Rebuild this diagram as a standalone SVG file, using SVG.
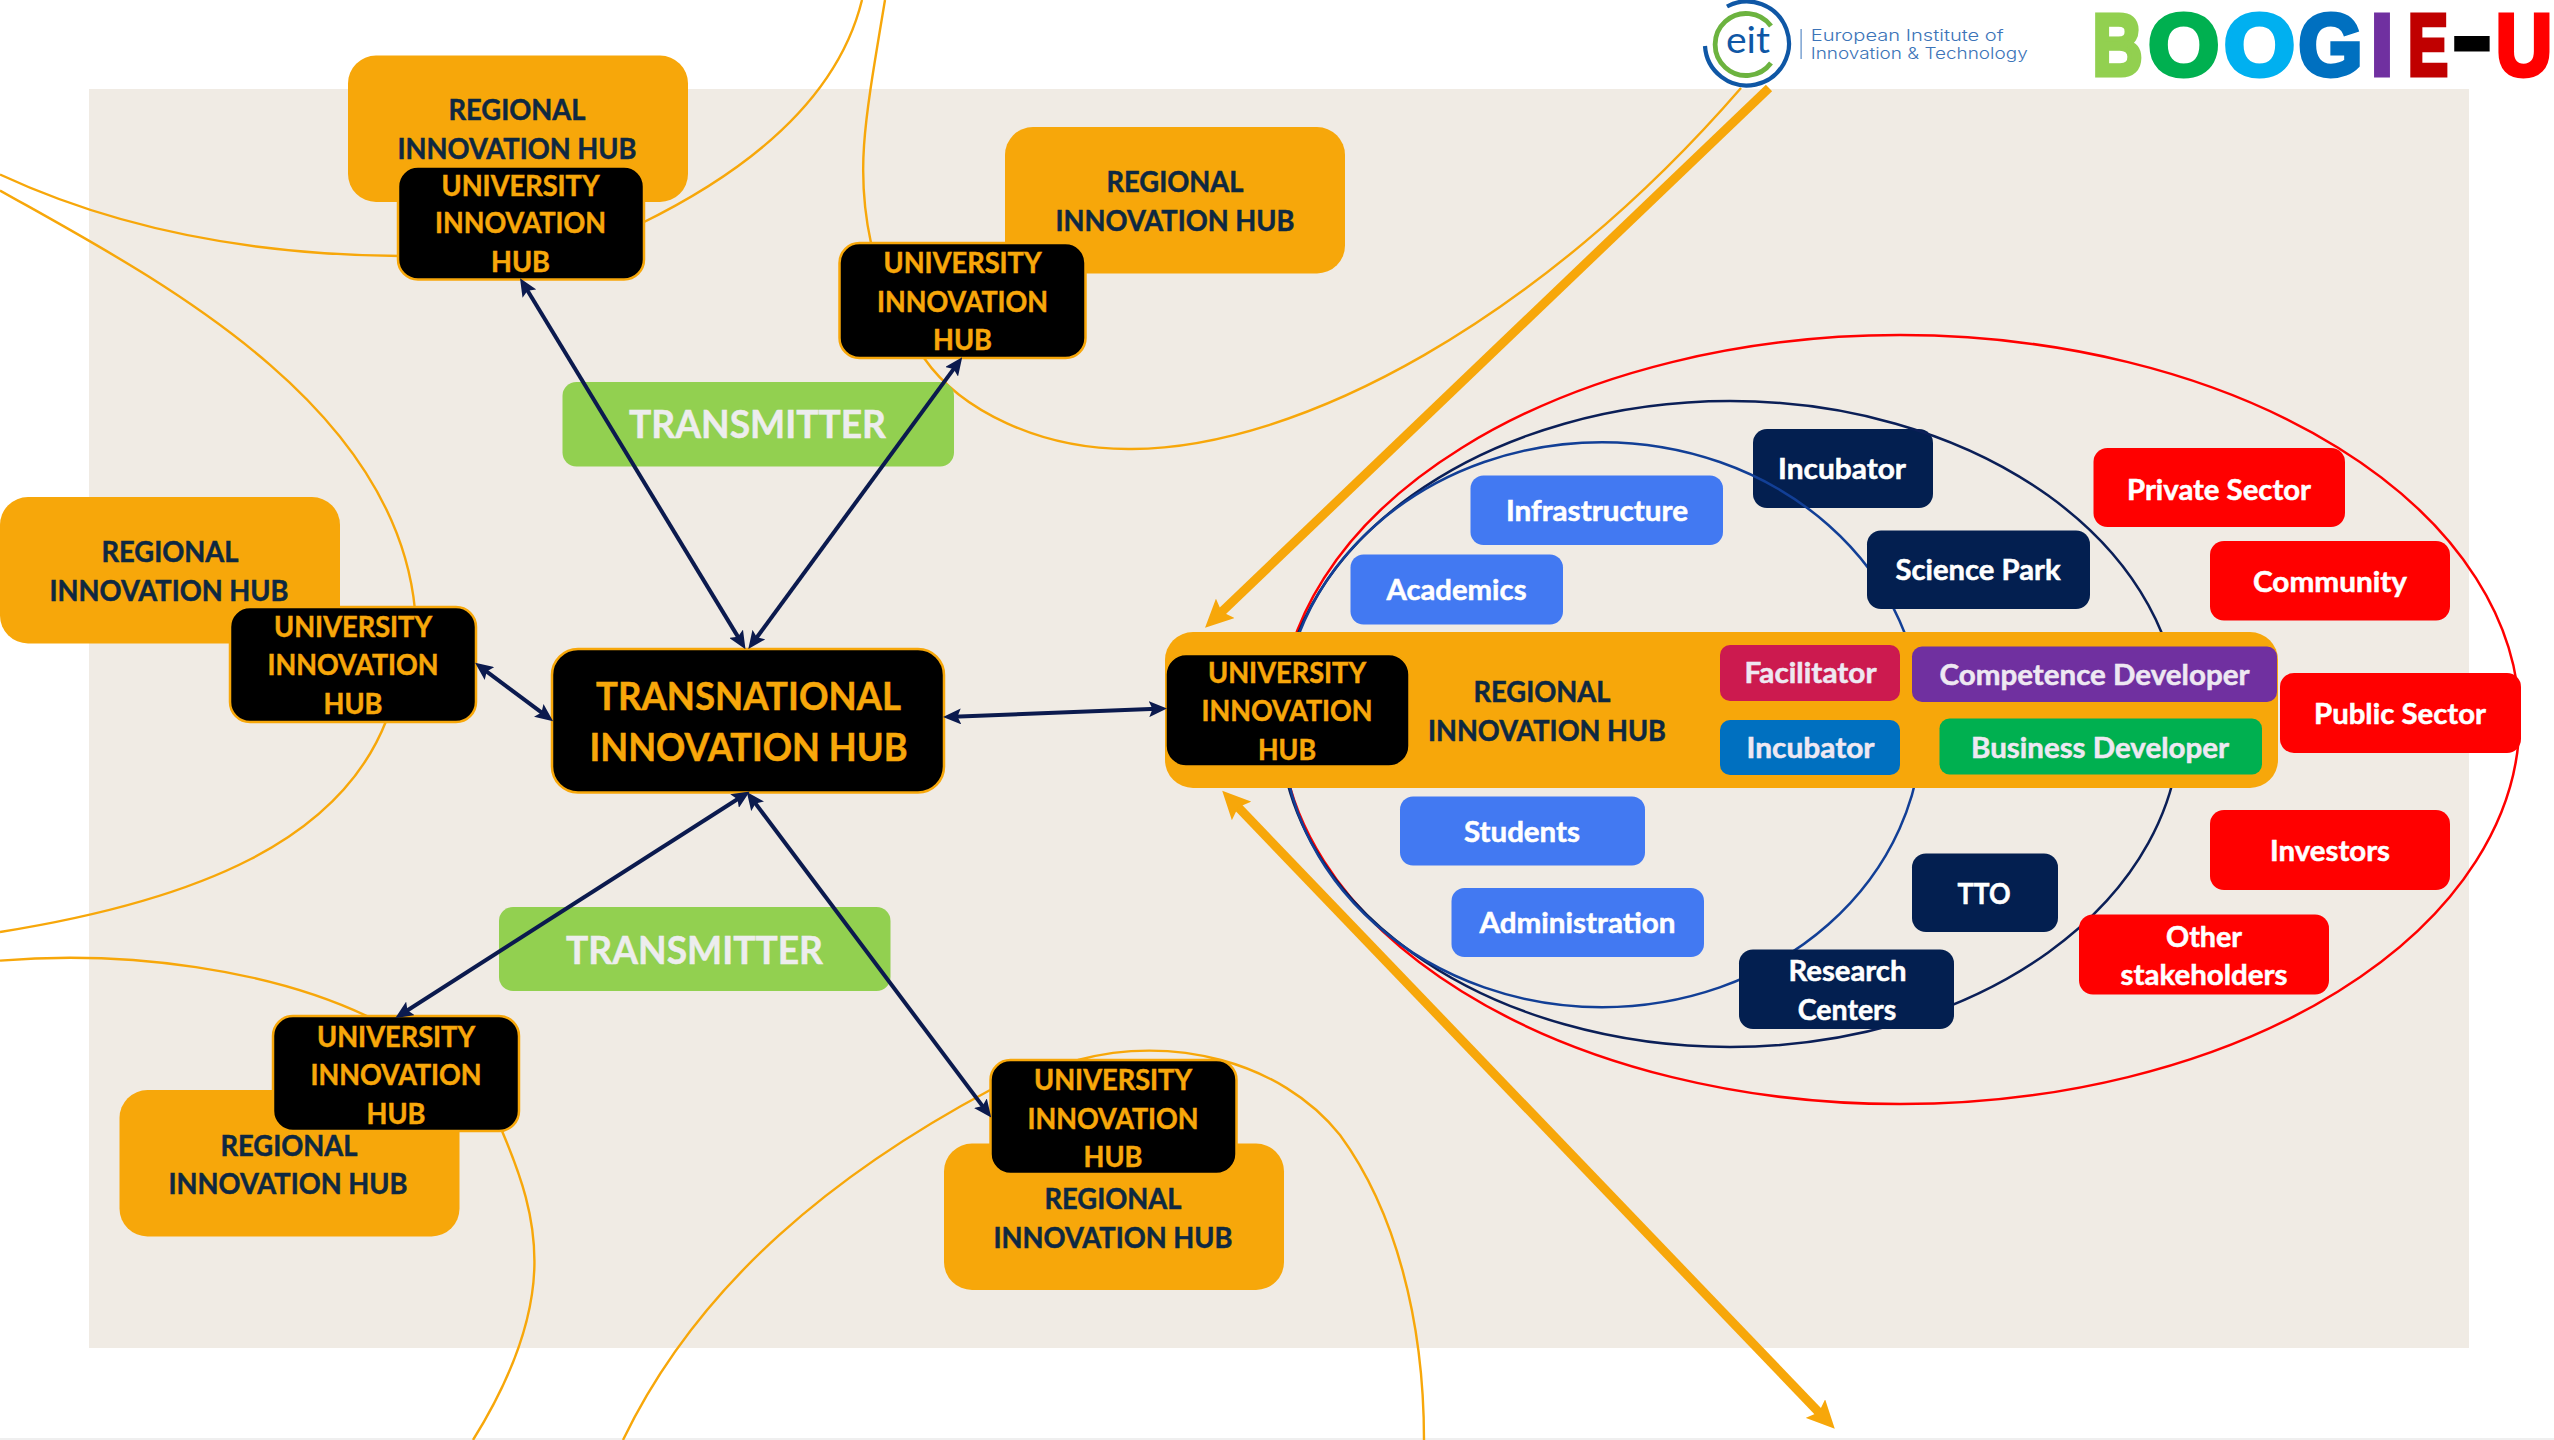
<svg xmlns="http://www.w3.org/2000/svg" width="2554" height="1440" viewBox="0 0 2554 1440">
<style>
text{font-family:"Lato","Open Sans","Liberation Sans",sans-serif;font-weight:700;font-size:28px;text-anchor:middle}
.rih rect{fill:#F7A70A}
.rih text{fill:#0E2841;stroke:#0E2841;stroke-width:.5}
.uih rect{fill:#000;stroke:#F7A70A;stroke-width:2.5}
.uih text{fill:#F7A70A;stroke:#F7A70A;stroke-width:.5}
.tx rect{fill:#92D050}
.tx text{fill:#EDEDED;font-size:38px;stroke:#EDEDED;stroke-width:.5}
.blue rect{fill:#4279F2}
.navy rect{fill:#031F50}
.red rect{fill:#FF0000}
.blue text,.navy text,.red text{fill:#fff;stroke:#fff;stroke-width:.5}
.role text{fill:#EEE8F2;stroke:#EEE8F2;stroke-width:.5}
.curve{fill:none;stroke:#F7A70A;stroke-width:2.4}
.ring{fill:none;stroke-width:2.5}
.nav{stroke:#0B1A4E;stroke-width:4;fill:none;marker-start:url(#nh);marker-end:url(#nh)}
.thick{stroke:#F7A70A;stroke-width:9;fill:none}
.logo{font-family:"Liberation Sans",Arial,sans-serif;font-size:88px;stroke-width:5}
.eit{font-family:"Inter","Lato",sans-serif;font-weight:300;font-size:16px;fill:#3C74B8;text-anchor:start}
</style>
<defs>
<marker id="nh" markerUnits="userSpaceOnUse" viewBox="0 0 18 16" markerWidth="18" markerHeight="16" refX="8" refY="8" orient="auto-start-reverse"><path d="M0,0 L18,8 L0,16 L3.5,8 z" fill="#0B1A4E"/></marker>
<marker id="oh" markerUnits="userSpaceOnUse" viewBox="0 0 28 27" markerWidth="28" markerHeight="27" refX="12" refY="13.5" orient="auto-start-reverse"><path d="M0,0 L28,13.5 L0,27 L5,13.5 z" fill="#F7A70A"/></marker>
</defs>
<rect x="0" y="0" width="2554" height="1440" fill="#fff"/>
<rect id="background" x="89" y="89" width="2380" height="1259" fill="#F0EBE4"/>
<rect x="0" y="1438" width="2554" height="2" fill="#EFEFEF"/>

<g id="n-incubator-navy" class="navy"><rect x="1753" y="429" width="180" height="79" rx="14"/><text x="1842" y="478.5" textLength="128" lengthAdjust="spacingAndGlyphs">Incubator</text></g>

<g id="arcs">
<path class="curve" d="M0,174.5 C130,235 270,255 400,256"/>
<path class="curve" d="M640,224 C730,180 835,110 862,0"/>
<path class="curve" d="M0,190.5 C150,275 395,400 415,610"/>
<path class="curve" d="M386.5,720 C340,840 200,900 0,932"/>
<path class="curve" d="M885,0 C865,120 855,170 871,243"/>
<path class="curve" d="M924,358 C960,410 1040,450 1132,449 C1300,448 1540,320 1741,88"/>
<path class="curve" d="M0,960.6 C130,950 270,970 367,1016"/>
<path class="curve" d="M502,1131 C540,1220 560,1300 473,1440"/>
<path class="curve" d="M623,1440 C700,1280 840,1170 992,1089"/>
<path class="curve" d="M1078,1060 C1170,1035 1280,1060 1340,1135 C1395,1210 1424,1320 1424,1440"/>
<ellipse class="ring" cx="1900" cy="719.6" rx="619.5" ry="384.5" stroke="#FF0000"/>
<ellipse class="ring" cx="1730" cy="724" rx="450" ry="323" stroke="#0B1F57"/>
<ellipse class="ring" cx="1602" cy="724.7" rx="320" ry="282.5" stroke="#123F96"/>
</g>

<g id="n-rih-top-left" class="rih"><rect x="348" y="55.5" width="340" height="146.5" rx="28"/><text x="517" y="120" textLength="137" lengthAdjust="spacingAndGlyphs">REGIONAL</text><text x="517" y="159" textLength="239" lengthAdjust="spacingAndGlyphs">INNOVATION HUB</text></g>
<g id="n-uih-top-left" class="uih"><rect x="398" y="166.5" width="246" height="113" rx="20"/><text x="520.5" y="195.5" textLength="158" lengthAdjust="spacingAndGlyphs">UNIVERSITY</text><text x="520.5" y="233" textLength="171" lengthAdjust="spacingAndGlyphs">INNOVATION</text><text x="520.5" y="272" textLength="59" lengthAdjust="spacingAndGlyphs">HUB</text></g>

<g id="n-rih-top-center" class="rih"><rect x="1005" y="127" width="340" height="146.5" rx="28"/><text x="1175" y="191.5" textLength="137" lengthAdjust="spacingAndGlyphs">REGIONAL</text><text x="1175" y="230.5" textLength="239" lengthAdjust="spacingAndGlyphs">INNOVATION HUB</text></g>
<g id="n-uih-top-center" class="uih"><rect x="839.5" y="243" width="246" height="115" rx="20"/><text x="962.5" y="273" textLength="158" lengthAdjust="spacingAndGlyphs">UNIVERSITY</text><text x="962.5" y="311.5" textLength="171" lengthAdjust="spacingAndGlyphs">INNOVATION</text><text x="962.5" y="350" textLength="59" lengthAdjust="spacingAndGlyphs">HUB</text></g>

<g id="n-rih-left" class="rih"><rect x="0" y="497" width="340" height="146.5" rx="28"/><text x="170" y="562" textLength="137" lengthAdjust="spacingAndGlyphs">REGIONAL</text><text x="169" y="601" textLength="239" lengthAdjust="spacingAndGlyphs">INNOVATION HUB</text></g>
<g id="n-uih-left" class="uih"><rect x="230" y="607" width="246" height="115" rx="20"/><text x="353" y="637" textLength="158" lengthAdjust="spacingAndGlyphs">UNIVERSITY</text><text x="353" y="675" textLength="171" lengthAdjust="spacingAndGlyphs">INNOVATION</text><text x="353" y="714" textLength="59" lengthAdjust="spacingAndGlyphs">HUB</text></g>

<g id="n-rih-bottom-left" class="rih"><rect x="119.5" y="1090" width="340" height="146.5" rx="28"/><text x="289" y="1156" textLength="137" lengthAdjust="spacingAndGlyphs">REGIONAL</text><text x="288" y="1194" textLength="239" lengthAdjust="spacingAndGlyphs">INNOVATION HUB</text></g>
<g id="n-uih-bottom-left" class="uih"><rect x="273" y="1016" width="246" height="115" rx="20"/><text x="396" y="1047" textLength="158" lengthAdjust="spacingAndGlyphs">UNIVERSITY</text><text x="396" y="1085" textLength="171" lengthAdjust="spacingAndGlyphs">INNOVATION</text><text x="396" y="1124" textLength="59" lengthAdjust="spacingAndGlyphs">HUB</text></g>

<g id="n-rih-bottom-center" class="rih"><rect x="944" y="1143.5" width="340" height="146.5" rx="28"/><text x="1113" y="1209" textLength="137" lengthAdjust="spacingAndGlyphs">REGIONAL</text><text x="1113" y="1248" textLength="239" lengthAdjust="spacingAndGlyphs">INNOVATION HUB</text></g>
<g id="n-uih-bottom-center" class="uih"><rect x="990.5" y="1060" width="246" height="114" rx="20"/><text x="1113" y="1090" textLength="158" lengthAdjust="spacingAndGlyphs">UNIVERSITY</text><text x="1113" y="1128.5" textLength="171" lengthAdjust="spacingAndGlyphs">INNOVATION</text><text x="1113" y="1167" textLength="59" lengthAdjust="spacingAndGlyphs">HUB</text></g>

<g id="n-transnational" class="uih"><rect x="552" y="649" width="392" height="143.5" rx="26"/><text x="748.5" y="709.5" style="font-size:38px" textLength="305" lengthAdjust="spacingAndGlyphs">TRANSNATIONAL</text><text x="748.5" y="760.5" style="font-size:38px" textLength="318" lengthAdjust="spacingAndGlyphs">INNOVATION HUB</text></g>

<g id="n-transmitter-1" class="tx"><rect x="562.5" y="382" width="391.5" height="84.5" rx="14"/><text x="757.5" y="438" textLength="257" lengthAdjust="spacingAndGlyphs">TRANSMITTER</text></g>
<g id="n-transmitter-2" class="tx"><rect x="499" y="907" width="391.5" height="84" rx="14"/><text x="694.5" y="964" textLength="257" lengthAdjust="spacingAndGlyphs">TRANSMITTER</text></g>

<g id="n-infrastructure" class="blue"><rect x="1470.5" y="475.5" width="252.5" height="69.5" rx="13"/><text x="1597" y="521" textLength="182" lengthAdjust="spacingAndGlyphs">Infrastructure</text></g>
<g id="n-academics" class="blue"><rect x="1350.5" y="554.5" width="212.5" height="70" rx="13"/><text x="1456.5" y="600" textLength="140" lengthAdjust="spacingAndGlyphs">Academics</text></g>
<g id="n-students" class="blue"><rect x="1400" y="796.5" width="245" height="69" rx="13"/><text x="1522" y="841.5" textLength="116" lengthAdjust="spacingAndGlyphs">Students</text></g>
<g id="n-administration" class="blue"><rect x="1451.5" y="888" width="252.5" height="69" rx="13"/><text x="1577.5" y="933" textLength="196" lengthAdjust="spacingAndGlyphs">Administration</text></g>

<g id="n-science-park" class="navy"><rect x="1867" y="530.5" width="223" height="78.5" rx="14"/><text x="1978" y="580" textLength="165" lengthAdjust="spacingAndGlyphs">Science Park</text></g>
<g id="n-tto" class="navy"><rect x="1912" y="853.5" width="146" height="78.5" rx="14"/><text x="1984" y="903.5" textLength="53" lengthAdjust="spacingAndGlyphs">TTO</text></g>
<g id="n-research-centers" class="navy"><rect x="1739" y="949.5" width="215" height="79.5" rx="14"/><text x="1847.5" y="980.5" textLength="118" lengthAdjust="spacingAndGlyphs">Research</text><text x="1847" y="1020" textLength="98.5" lengthAdjust="spacingAndGlyphs">Centers</text></g>

<g id="n-private-sector" class="red"><rect x="2093.5" y="448" width="251.5" height="79" rx="14"/><text x="2219" y="499.5" textLength="184" lengthAdjust="spacingAndGlyphs">Private Sector</text></g>
<g id="n-community" class="red"><rect x="2210" y="541" width="240" height="79.5" rx="14"/><text x="2330" y="591.5" textLength="154" lengthAdjust="spacingAndGlyphs">Community</text></g>
<g id="n-public-sector" class="red"><rect x="2280" y="673" width="241" height="80" rx="14"/><text x="2400" y="723.5" textLength="172" lengthAdjust="spacingAndGlyphs">Public Sector</text></g>
<g id="n-investors" class="red"><rect x="2210" y="810" width="240" height="80" rx="14"/><text x="2330" y="860.5" textLength="120" lengthAdjust="spacingAndGlyphs">Investors</text></g>
<g id="n-other-stakeholders" class="red"><rect x="2079" y="914.5" width="250" height="80" rx="14"/><text x="2204" y="947" textLength="76" lengthAdjust="spacingAndGlyphs">Other</text><text x="2204" y="984.5" textLength="167" lengthAdjust="spacingAndGlyphs">stakeholders</text></g>

<g id="n-regional-main" class="rih"><rect x="1165" y="632" width="1113" height="156" rx="28"/><text x="1542" y="702" textLength="137" lengthAdjust="spacingAndGlyphs">REGIONAL</text><text x="1547" y="741" textLength="238" lengthAdjust="spacingAndGlyphs">INNOVATION HUB</text></g>
<g id="n-uih-main" class="uih"><rect x="1166" y="654.5" width="243" height="111.5" rx="20" style="stroke-width:1.5"/><text x="1287" y="683" textLength="158" lengthAdjust="spacingAndGlyphs">UNIVERSITY</text><text x="1287" y="721" textLength="171" lengthAdjust="spacingAndGlyphs">INNOVATION</text><text x="1287" y="760" textLength="58" lengthAdjust="spacingAndGlyphs">HUB</text></g>
<g id="n-facilitator" class="role"><rect x="1720" y="645" width="180" height="56" rx="10" fill="#CC1A4F"/><text x="1810.5" y="683" textLength="132" lengthAdjust="spacingAndGlyphs">Facilitator</text></g>
<g id="n-competence-developer" class="role"><rect x="1912" y="646.5" width="365" height="55.5" rx="10" fill="#7030A0"/><text x="2094.5" y="685" textLength="310" lengthAdjust="spacingAndGlyphs">Competence Developer</text></g>
<g id="n-incubator-blue" class="role"><rect x="1720" y="720" width="180" height="55" rx="10" fill="#0070C0"/><text x="1810.5" y="758" textLength="128" lengthAdjust="spacingAndGlyphs">Incubator</text></g>
<g id="n-business-developer" class="role"><rect x="1939.5" y="718.5" width="322.5" height="56" rx="10" fill="#00B050"/><text x="2100" y="757.5" textLength="258" lengthAdjust="spacingAndGlyphs">Business Developer</text></g>

<g id="connectors">
<line class="nav" x1="525.2" y1="286.8" x2="740.3" y2="640.6"/>
<line class="nav" x1="956.3" y1="365.4" x2="754.2" y2="641"/>
<line class="nav" x1="483.1" y1="668.8" x2="545.1" y2="715.2"/>
<line class="nav" x1="953" y1="716.7" x2="1157" y2="708.8"/>
<line class="nav" x1="741.3" y1="796.8" x2="403.7" y2="1012.7"/>
<line class="nav" x1="752.8" y1="799.9" x2="985.2" y2="1109.6"/>
<line class="thick" x1="1769" y1="88" x2="1216.6" y2="616.7" marker-end="url(#oh)"/>
<line class="thick" x1="1233.3" y1="802.2" x2="1823.7" y2="1417.3" marker-start="url(#oh)" marker-end="url(#oh)"/>
</g>

<g id="logo-eit">
<path d="M1727,6.5 A42,42 0 1 1 1705,46" fill="none" stroke="#0F57A5" stroke-width="4.2"/>
<path d="M1771,26 A31,31 0 1 0 1771,63" fill="none" stroke="#6CB33F" stroke-width="4.8"/>
<text x="1748" y="53" style="font-family:Lato,sans-serif;font-weight:400;font-size:36px;fill:#0F57A5" textLength="44" lengthAdjust="spacingAndGlyphs">eit</text>
<rect x="1800.5" y="29" width="1.2" height="30" fill="#5B8BC6"/>
<text class="eit" x="1810.7" y="41" textLength="193" lengthAdjust="spacingAndGlyphs">European Institute of</text>
<text class="eit" x="1810.7" y="59" textLength="217" lengthAdjust="spacingAndGlyphs">Innovation &amp; Technology</text>
</g>
<g id="logo-boogie">
<text class="logo" x="2117.5" y="74.5" fill="#92D050" stroke="#92D050" textLength="50" lengthAdjust="spacingAndGlyphs">B</text>
<text class="logo" x="2183.7" y="74.5" fill="#00B050" stroke="#00B050" textLength="71" lengthAdjust="spacingAndGlyphs">O</text>
<text class="logo" x="2259.5" y="74.5" fill="#00B0F0" stroke="#00B0F0" textLength="71" lengthAdjust="spacingAndGlyphs">O</text>
<text class="logo" x="2330.5" y="74.5" fill="#0070C0" stroke="#0070C0" textLength="64" lengthAdjust="spacingAndGlyphs">G</text>
<text class="logo" x="2382" y="74.5" fill="#7030A0" stroke="#7030A0" textLength="22" lengthAdjust="spacingAndGlyphs">I</text>
<text class="logo" x="2428" y="74.5" fill="#C00000" stroke="#C00000" textLength="40" lengthAdjust="spacingAndGlyphs">E</text>
<text class="logo" x="2472" y="66" fill="#000" stroke="#000" textLength="38" lengthAdjust="spacingAndGlyphs">-</text>
<text class="logo" x="2524" y="74.5" fill="#FF0000" stroke="#FF0000" textLength="56" lengthAdjust="spacingAndGlyphs">U</text>
</g>
</svg>
